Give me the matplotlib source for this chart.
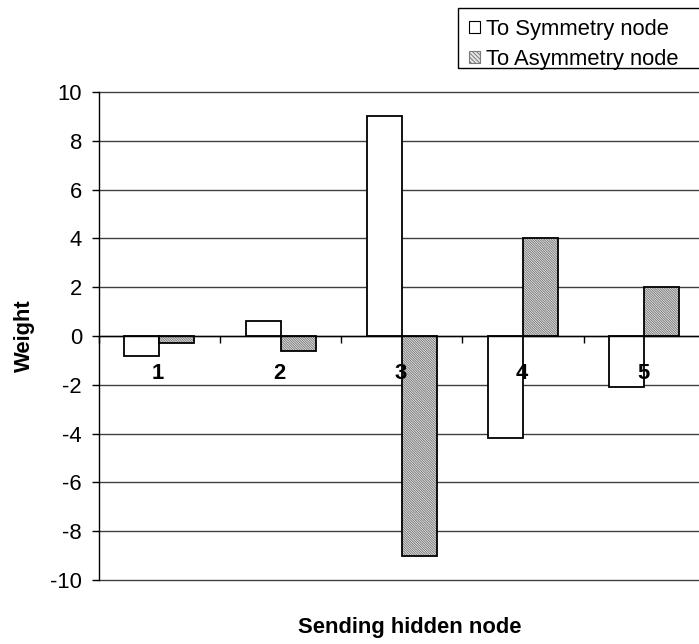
import matplotlib
matplotlib.use("Agg")
import matplotlib.pyplot as plt
from matplotlib.patches import Patch, Rectangle
import matplotlib.transforms as mtransforms
import numpy as np

plt.rcParams['font.family'] = ['Liberation Sans', 'DejaVu Sans']
plt.rcParams['hatch.linewidth'] = 0.7

categories = ["1", "2", "3", "4", "5"]
sym_values = [-0.8, 0.6, 9.0, -4.2, -2.1]
asym_values = [-0.3, -0.6, -9.0, 4.0, 2.0]
series_names = ["To Symmetry node", "To Asymmetry node"]
yticks = [-10, -8, -6, -4, -2, 0, 2, 4, 6, 8, 10]

W, H = 699, 644
fig = plt.figure(figsize=(W / 100, H / 100), dpi=100)
left, right, top, bottom = 98.7, 705.0, 92.0, 580.0
ax = fig.add_axes([left / W, 1 - bottom / H, (right - left) / W, (bottom - top) / H])

fs = 15.8
x = np.arange(len(categories)) + 0.5
bw = 0.289

ax.bar(x - bw / 2, sym_values, width=bw, facecolor='white', edgecolor='black',
       linewidth=1.3, zorder=3)
ax.bar(x + bw / 2, asym_values, width=bw, facecolor='#f2f2f2', edgecolor='#7a7a7a',
       linewidth=0, hatch='\\' * 14, zorder=3)
ax.bar(x + bw / 2, asym_values, width=bw, facecolor='none', edgecolor='black',
       linewidth=1.3, zorder=4)

ax.set_xlim(0, len(categories))
ax.set_ylim(-10, 10)
ax.set_yticks(yticks)
ax.set_yticklabels([str(v) for v in yticks])
for v in yticks:
    ax.axhline(v, color='#404040', linewidth=1.0, zorder=1, clip_on=False)

ax.spines['top'].set_visible(False)
ax.spines['right'].set_visible(False)
ax.spines['bottom'].set_position(('data', 0))
ax.spines['bottom'].set_zorder(5)
ax.spines['left'].set_linewidth(1.0)
ax.spines['bottom'].set_linewidth(1.0)

ax.set_xticks(np.arange(len(categories) + 1))
ax.set_xticklabels([])
ax.tick_params(axis='x', which='major', direction='out', length=5, width=1)
ax.tick_params(axis='y', direction='out', length=5, width=1, pad=7, labelsize=fs)

lab_tr = mtransforms.offset_copy(ax.transData, fig=fig, x=-1.0, y=-27.0, units='points')
for xi, lab in zip(x, categories):
    ax.text(xi, 0, lab, transform=lab_tr, ha='center', va='center',
            fontsize=fs, fontweight='bold', zorder=6)

fig.text(24 / W, 1 - 336 / H, "Weight", rotation=90, ha='center', va='center',
         fontsize=fs, fontweight='bold')
fig.text(410 / W, 1 - 628 / H, "Sending hidden node", ha='center', va='center',
         fontsize=fs, fontweight='bold')

handles = [Patch(facecolor='white', edgecolor='black', linewidth=0.8),
           Patch(facecolor='#e8e8e8', edgecolor='#7a7a7a', hatch='\\' * 8, linewidth=0.8)]
leg = fig.legend(handles, series_names, loc='upper left',
                 bbox_to_anchor=(462 / W, 1 - 12 / H), fontsize=fs,
                 frameon=False,
                 handlelength=0.5, handleheight=0.5, handletextpad=0.3,
                 labelspacing=0.42, borderpad=0.3, borderaxespad=0)
fig.add_artist(Rectangle((458 / W, 1 - 68 / H), 260 / W, 60 / H,
                         transform=fig.transFigure, fill=False,
                         edgecolor='black', linewidth=1.0))

fig.savefig("out.png", dpi=100)
